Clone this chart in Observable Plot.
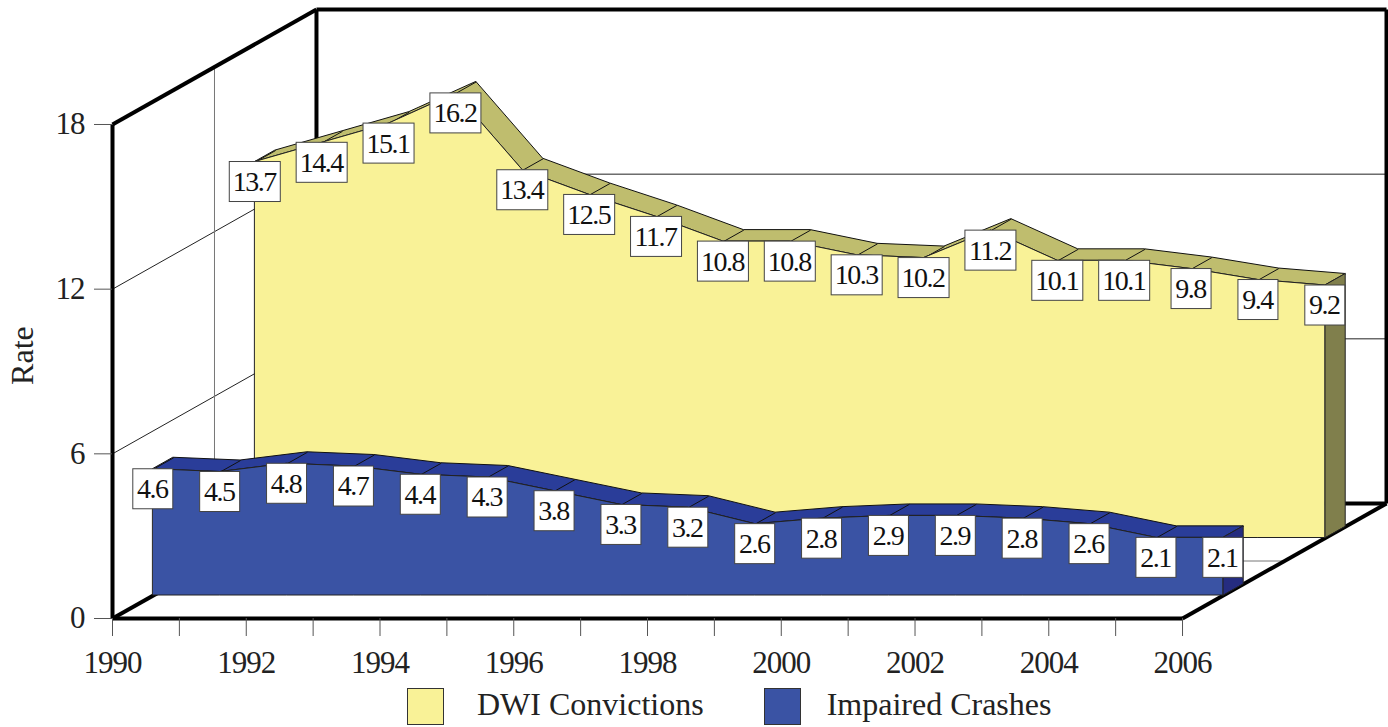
<!DOCTYPE html>
<html>
<head>
<meta charset="utf-8">
<script src="https://cdn.jsdelivr.net/npm/d3@7"></script>
<script src="https://cdn.jsdelivr.net/npm/@observablehq/plot@0.6"></script>
<style>
  html, body { margin: 0; padding: 0; background: #fff; }
  #chart svg { display: block; }
  #chart svg text { letter-spacing: -1px; }
  #chart svg .value-label text { letter-spacing: -1.5px; }
  #chart svg .axis-title text { letter-spacing: 0; }
  #legend { display: flex; align-items: center; height: 41px; font-family: "Liberation Serif", serif; font-size: 32px; color: #222; }
  #legend .sw { width: 37px; height: 37px; box-sizing: border-box; border: 1px solid #333; flex: none; }
  #legend span { white-space: nowrap; position: relative; top: -2px; }
</style>
</head>
<body>
<div id="chart"></div>
<div id="legend"></div>
<script>
const years = [1990,1991,1992,1993,1994,1995,1996,1997,1998,1999,2000,2001,2002,2003,2004,2005,2006];
const dwi = [13.7,14.4,15.1,16.2,13.4,12.5,11.7,10.8,10.8,10.3,10.2,11.2,10.1,10.1,9.8,9.4,9.2];
const crashes = [4.6,4.5,4.8,4.7,4.4,4.3,3.8,3.3,3.2,2.6,2.8,2.9,2.9,2.8,2.6,2.1,2.1];
const yTicks = [0,6,12,18];
const seriesNames = ["DWI Convictions","Impaired Crashes"];
const axisTitle = "Rate";

// Oblique depth: a full-depth step along the floor, in data units
const depthYears = 3.05, depthRate = 4.19;
const X = (year, depth) => year + depth * depthYears;
const Y = (rate, depth) => rate + depth * depthRate;

const pxX = 66.875, pxY = 27.44;
const boxH = 40 / pxY;
const boxW = (t) => (t.length > 3 ? 51 : 40) / pxX;

const rows = (values, front, back) => years.map((year, i) => ({year, value: values[i], front, back, label: values[i].toFixed(1)}));
const dwiRows = rows(dwi, 0.7, 0.8);
const crashRows = rows(crashes, 0.2, 0.3);

const frame = [
  [[1990,18,0],[1990,18,1]], [[1990,18,1],[2006,18,1]], [[2006,18,1],[2006,0,1]],
  [[2006,0,1],[1990,0,1]], [[1990,0,1],[1990,18,1]], [[1990,0,0],[1990,0,1]],
  [[1990,0,0],[2006,0,0]], [[2006,0,0],[2006,0,1]], [[1990,0,0],[1990,18,0]]
];
const grid = [
  [[1990,6,0],[1990,6,1]], [[1990,6,1],[2006,6,1]],
  [[1990,12,0],[1990,12,1]], [[1990,12,1],[2006,12,1]]
];
const divider = [
  [[1990,0,0.5],[1990,18,0.5]], [[1990,0,0.5],[2006,0,0.5]]
];
const seg = (list, opts) => Plot.link(list, {
  x1: s => X(s[0][0], s[0][2]), y1: s => Y(s[0][1], s[0][2]),
  x2: s => X(s[1][0], s[1][2]), y2: s => Y(s[1][1], s[1][2]), ...opts
});

function series(data, colors) {
  const f = data[0].front, b = data[0].back;
  const last = data[data.length - 1];
  return [
    Plot.area(data, {x1: d => X(d.year, f), y1: d => Y(d.value, f), x2: d => X(d.year, b), y2: d => Y(d.value, b), fill: colors.ridge, stroke: "#111", strokeWidth: 1}),
    Plot.link(data, {x1: d => X(d.year, f), y1: d => Y(d.value, f), x2: d => X(d.year, b), y2: d => Y(d.value, b), stroke: "#111", strokeWidth: 1}),
    Plot.area([{r: 0}, {r: last.value}], {x1: X(last.year, f), y1: d => Y(d.r, f), x2: X(last.year, b), y2: d => Y(d.r, b), fill: colors.end, stroke: "#222", strokeWidth: 1}),
    Plot.areaY(data, {x: d => X(d.year, f), y1: Y(0, f), y2: d => Y(d.value, f), fill: colors.face, stroke: "#222", strokeWidth: 1})
  ];
}
function labels(data) {
  const f = data[0].front;
  return [
    Plot.rect(data, {
      x1: d => X(d.year, f) - boxW(d.label) / 2, x2: d => X(d.year, f) + boxW(d.label) / 2,
      y1: d => Y(d.value, f), y2: d => Y(d.value, f) - boxH,
      fill: "#fff", stroke: "#444", strokeWidth: 1
    }),
    Plot.text(data, {
      x: d => X(d.year, f), y: d => Y(d.value, f) - boxH / 2, text: "label", dx: -1,
      fontSize: 28, fill: "#111", className: "value-label"
    })
  ];
}

const chart = Plot.plot({
  width: 1388, height: 686,
  marginLeft: 112, marginRight: 2, marginTop: 9, marginBottom: 68,
  style: {fontFamily: "Liberation Serif, serif", background: "#fff", color: "#222"},
  x: {domain: [1990, 2006 + depthYears]},
  y: {domain: [0, 18 + depthRate]},
  marks: [
    seg(grid, {stroke: "#222", strokeWidth: 1}),
    seg(divider, {stroke: "#777", strokeWidth: 1}),
    seg(frame, {stroke: "#000", strokeWidth: 4}),
    ...series(dwiRows, {face: "#f9f297", ridge: "#bfbd6e", end: "#807f4c"}),
    ...series(crashRows, {face: "#3a53a4", ridge: "#2a3d99", end: "#252c80"}),
    ...labels(dwiRows),
    ...labels(crashRows),
    Plot.axisX({ticks: years, tickSize: 18, tickPadding: 14, stroke: "#555", tickFormat: d => d % 2 ? "" : String(d), fontSize: 31, label: null}),
    Plot.axisY({ticks: yTicks, tickSize: 18, tickPadding: 10, stroke: "#555", fontSize: 31, label: null}),
    Plot.text([axisTitle], {frameAnchor: "left", textAnchor: "middle", dx: -90, y: [9.58], text: d => d, rotate: -90, fontSize: 32, fill: "#222", className: "axis-title"})
  ]
});
document.getElementById("chart").appendChild(chart);

const legend = document.getElementById("legend");
const legendItems = [
  {name: seriesNames[0], fill: "#f9f297", left: 407, gap: 33},
  {name: seriesNames[1], fill: "#3a53a4", left: 60, gap: 26}
];
for (const item of legendItems) {
  const sw = document.createElement("div");
  sw.className = "sw";
  sw.style.background = item.fill;
  sw.style.marginLeft = item.left + "px";
  const label = document.createElement("span");
  label.textContent = item.name;
  label.style.marginLeft = item.gap + "px";
  legend.append(sw, label);
}
</script>
</body>
</html>
